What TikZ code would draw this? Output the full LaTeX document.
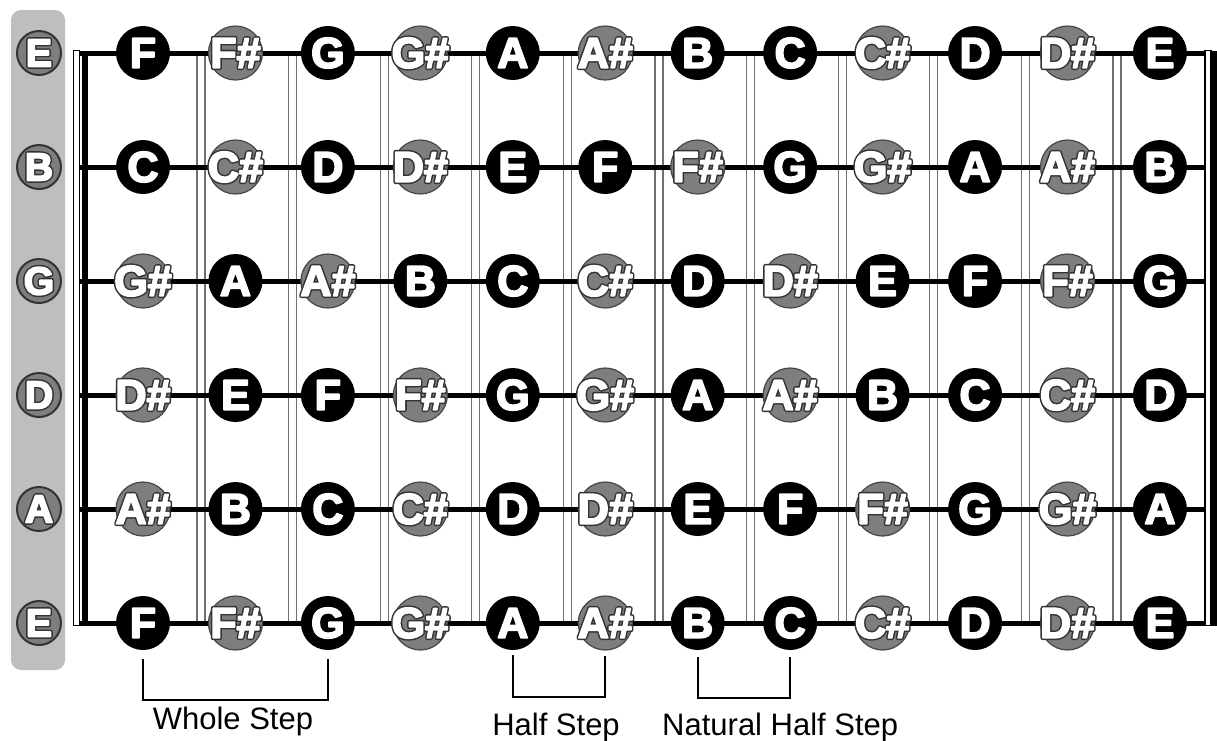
\documentclass[tikz,border=0pt]{standalone}
\usepackage{fontspec}
\setmainfont{Liberation Sans}
\usetikzlibrary{calc}

\definecolor{panelgray}{HTML}{BEBEBE}
\definecolor{sharpfill}{HTML}{7E7E7E}
\definecolor{sharpedge}{HTML}{474747}
\definecolor{fretgray}{HTML}{707070}
\definecolor{inkdark}{HTML}{333333}

% glyph outlines stroked as well as filled (text render mode 2)
\newcommand\stroked[3]{{\color{#1}%
  \special{pdf:literal direct 1 j 2 Tr #2 w}#3%
  \special{pdf:literal direct 0 Tr 0 j}}}
% heavy white letters
\newcommand\heavy[1]{\stroked{white}{1.8}{#1}}
% heavy white letters on a dark rim
\newcommand\edged[1]{\rlap{\stroked{inkdark}{4.8}{#1}}\stroked{white}{1.8}{#1}}

\tikzset{
  x=1pt, y=-1pt,
  gstring/.style={line width=5pt, line cap=butt},
  fretwire/.style={draw=fretgray, line width=1.3pt, fill=white},
  endwire/.style={draw=black, line width=1.3pt, fill=white},
  notetext/.style={inner sep=0pt, font=\fontsize{43}{43}\bfseries\selectfont},
  opentext/.style={inner sep=0pt, font=\fontsize{39}{39}\bfseries\selectfont},
  natnote/.style={circle, fill=black, minimum size=54pt, inner sep=0pt,
    label={[notetext]center:\heavy{#1}}},
  sharpnote/.style={circle, fill=sharpfill, draw=sharpedge, line width=1.2pt,
    minimum size=54pt, inner sep=0pt,
    label={[notetext]center:\edged{#1}}},
  opennote/.style={circle, fill=sharpfill, draw=inkdark, line width=2pt,
    minimum size=44pt, inner sep=0pt,
    label={[opentext]center:\edged{#1}}},
  bracket/.style={line width=2pt},
  steplabel/.style={inner sep=0pt, font=\fontsize{31}{31}\selectfont},
}

\begin{document}
\begin{tikzpicture}
\useasboundingbox (0,0) rectangle (1217,740);
\fill[white] (0,0) rectangle (1217,740);

% panel behind the open strings
\fill[panelgray, rounded corners=10pt] (11,10) rectangle (65,670);

% frets
\foreach \k in {1,...,11}{
  \pgfmathsetmacro\fx{201+91.6*(\k-1)}
  \draw[fretwire] (\fx-4,53) rectangle (\fx+4,623);
}
% nut and far end
\draw[endwire] (73.5,50.5) rectangle (79.5,625.5);
\fill (82,50.5) rectangle (88,625.5);
\draw[endwire] (1205,50.5) rectangle (1211,625.5);
\fill (1212,50.5) rectangle (1219,625.5);

% strings
\foreach \s in {1,...,6}{
  \pgfmathsetmacro\y{53+114*(\s-1)}
  \draw[gstring] (79,\y) -- (1206,\y);
}

% open string names
\foreach \s/\nm in {1/E,2/B,3/G,4/D,5/A,6/E}{
  \pgfmathsetmacro\y{53+114*(\s-1)}
  \node[opennote=\nm] (o\s) at (39,\y) {};
}

% notes on frets 1 to 12 (open pitch as chromatic index, C = 0)
\foreach \s/\open in {1/4,2/11,3/7,4/2,5/9,6/4}{
  \foreach \f in {1,...,12}{
    \pgfmathsetmacro\y{53+114*(\s-1)}
    \pgfmathsetmacro\x{143+92.45*(\f-1)}
    \pgfmathtruncatemacro\n{mod(\open+\f,12)}
    \ifcase\n\relax
      \node[natnote=C] (n\s-\f) at (\x,\y) {};
    \or \node[sharpnote=C\#] (n\s-\f) at (\x,\y) {};
    \or \node[natnote=D] (n\s-\f) at (\x,\y) {};
    \or \node[sharpnote=D\#] (n\s-\f) at (\x,\y) {};
    \or \node[natnote=E] (n\s-\f) at (\x,\y) {};
    \or \node[natnote=F] (n\s-\f) at (\x,\y) {};
    \or \node[sharpnote=F\#] (n\s-\f) at (\x,\y) {};
    \or \node[natnote=G] (n\s-\f) at (\x,\y) {};
    \or \node[sharpnote=G\#] (n\s-\f) at (\x,\y) {};
    \or \node[natnote=A] (n\s-\f) at (\x,\y) {};
    \or \node[sharpnote=A\#] (n\s-\f) at (\x,\y) {};
    \or \node[natnote=B] (n\s-\f) at (\x,\y) {};
    \fi
  }
}

% step brackets under the low string
\draw[bracket] ($(n6-1.south)+(0,9)$) -- ++(0,41) -| ($(n6-3.south)+(0,9)$);
\draw[bracket] ($(n6-5.south)+(0,5)$) -- ++(0,42) -| ($(n6-6.south)+(0,5)$);
\draw[bracket] ($(n6-7.south)+(0,7)$) -- ++(0,41) -| ($(n6-8.south)+(0,7)$);

\node[steplabel, anchor=base] (whole) at (233,729) {Whole Step};
\node[steplabel, anchor=base] (half) at (556,735) {Half Step};
\node[steplabel, anchor=base west] (nathalf) at (662,735) {Natural Half Step};
\end{tikzpicture}
\end{document}
